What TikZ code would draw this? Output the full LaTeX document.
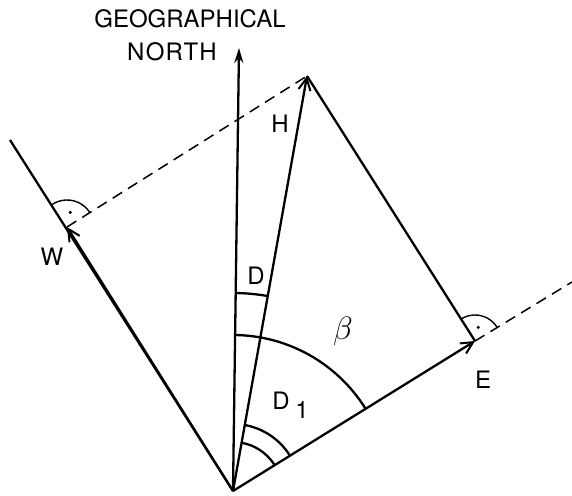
\documentclass[tikz,border=0pt]{standalone}
\usepackage{fontspec}
\setmainfont{TeX Gyre Heros}
\usetikzlibrary{arrows.meta,angles}
\begin{document}
\begin{tikzpicture}[x=1pt,y=1pt,
  vec/.style={line width=2.3pt},
  tipbarb/.style={-{Straight Barb[length=12pt,width=12pt,line width=2pt]}},
  tipnorth/.style={-{Stealth[length=15pt,width=9pt]}},
  dashln/.style={line width=1.5pt, dash pattern=on 11pt off 7pt},
  arcmark/.style={draw, line width=2.3pt},
  rightmark/.style={draw, line width=1.4pt},
  lbl/.style={font=\fontsize{24}{28}\selectfont, inner sep=0pt},
]
\useasboundingbox (0,0) rectangle (572,495);
\coordinate (O) at (233,4);
\coordinate (N) at (239,447);
\coordinate (H) at (307,419);
\coordinate (E) at (475,154);
\coordinate (W) at (67,268);
\coordinate (Ext) at (10,355);
\coordinate (Rend) at (572,213);

\draw[vec] (O) -- (Ext);
\draw[vec, tipbarb] (O) -- (W);
\draw[vec, tipnorth] (O) -- (N);
\draw[vec, tipbarb] (O) -- (H);
\draw[vec, tipbarb] (O) -- (E);
\draw[vec] (E) -- (H);
\draw[dashln] (W) -- (H);
\draw[dashln] (E) -- (Rend);

\pic[arcmark, angle radius=198pt] {angle=H--O--N};
\pic[arcmark, angle radius=156pt] {angle=E--O--N};
\pic[arcmark, angle radius=49pt] {angle=E--O--H};
\pic[arcmark, angle radius=67pt] {angle=E--O--H};
\pic[rightmark, angle radius=27pt] {angle=H--W--Ext};
\pic[rightmark, angle radius=26pt] {angle=Rend--E--H};
\fill (W) ++(77.5:15) circle (1.7pt);
\fill (E) ++(76.5:14) circle (1.7pt);

\node[lbl] (geo) at (190,476.5) {GEOGRAPHICAL};
\node[lbl] (north) at (172,443) {\addfontfeatures{LetterSpace=5}NORTH};
\node[lbl] (lh) at (280,371) {H};
\node[lbl] (lw) at (52,238) {W};
\node[lbl] (ld) at (256,219) {D};
\node[inner sep=0pt] (lb) at (343,164) {\scalebox{1.3}{\fontsize{24.88}{30}\selectfont$\beta$}};
\node[lbl] (ld1) at (281,94) {D};
\node[lbl] (ld1s) at (302,85) {1};
\node[lbl] (le) at (483,115) {E};
\end{tikzpicture}
\end{document}
